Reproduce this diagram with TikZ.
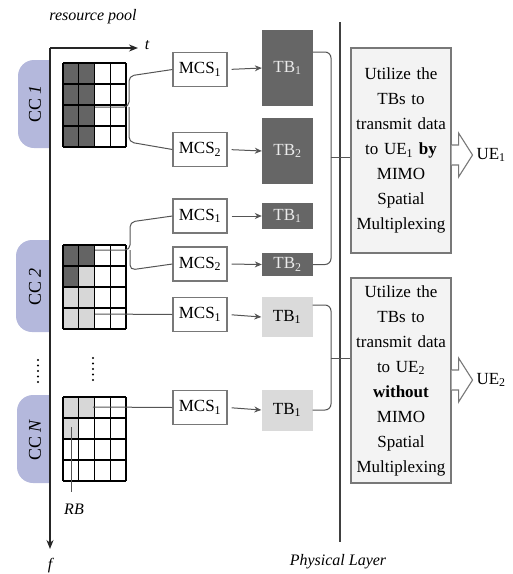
\documentclass[tikz,border=0pt]{standalone}
\usepackage{fontspec}
\setmainfont{Liberation Serif}
\usetikzlibrary{arrows.meta,calc}
\definecolor{darkcell}{RGB}{100,100,100}
\definecolor{lightcell}{RGB}{215,215,215}
\definecolor{tbdark}{RGB}{102,102,102}
\definecolor{tblight}{RGB}{218,218,218}
\definecolor{ccfill}{RGB}{180,184,220}
\definecolor{boxfill}{RGB}{243,243,243}
\definecolor{conncol}{RGB}{85,85,85}
\definecolor{boxline}{RGB}{120,120,120}
\tikzset{
  every node/.style={font=\fontsize{17}{25}\selectfont},
  mcsbox/.style={draw=boxline, line width=1.1pt, fill=white, minimum width=54pt, minimum height=34pt, inner sep=0pt},
  tbdk/.style={fill=tbdark, text=white!92!black, minimum width=51pt, inner sep=0pt},
  tblt/.style={fill=tblight, text=black, minimum width=51pt, inner sep=0pt},
  conn/.style={draw=conncol, line width=1pt},
  connarrow/.style={conn, -{Stealth[length=7pt,width=6pt]}, shorten <=4pt},
  uebox/.style={draw=boxline, line width=1.1pt, fill=boxfill, minimum width=100pt, minimum height=205pt, text width=98pt, align=center, inner sep=0pt},
  blockarrow/.style={draw=boxline, line width=1.1pt, fill=white, line join=miter},
  gridline/.style={line width=1.1pt, black},
  axisline/.style={line width=1.8pt, black!85},
  italiclabel/.style={font=\fontsize{16}{18}\selectfont\itshape},
}
\begin{document}
\begin{tikzpicture}[x=1pt,y=-1pt]
\useasboundingbox (0,0) rectangle (513,574);

% CC blobs
\begin{scope}
  \clip (0,0) rectangle (50,574);
  \fill[ccfill, rounded corners=16] (18,60) rectangle (90,148);
  \fill[ccfill, rounded corners=16] (16,240) rectangle (90,332);
  \fill[ccfill, rounded corners=16] (17,395) rectangle (90,483);
\end{scope}
\node[rotate=90, font=\fontsize{18}{20}\selectfont] (cc1) at (35,104) {CC \textit{1}};
\node[rotate=90, font=\fontsize{18}{20}\selectfont] (cc2) at (35,287) {CC \textit{2}};
\node[rotate=90, font=\fontsize{18}{20}\selectfont] (ccn) at (35,440) {CC \textit{N}};

% Grid 1
\fill[darkcell] (63,63) rectangle (94.5,147);
% Grid 2
\fill[darkcell] (63,245) rectangle (94.5,266);
\fill[darkcell] (63,266) rectangle (78.75,287);
\fill[lightcell] (78.75,266) rectangle (94.5,287);
\fill[lightcell] (63,287) rectangle (94.5,329);
% Grid N
\fill[lightcell] (63,397) rectangle (94.5,418);
\fill[lightcell] (63,418) rectangle (78.75,439);
\foreach \yo in {63,245,397}{
  \foreach \i in {0,...,4}{
    \draw[gridline] (63+\i*15.75,\yo) -- (63+\i*15.75,\yo+84);
    \draw[gridline] (63,\yo+\i*21) -- (126,\yo+\i*21);
  }
}

% dots
\foreach \i in {0,...,4}{
  \fill (38,360+\i*5.5) circle (1.1);
  \fill (93,358+\i*5.5) circle (1.1);
}

% axes
\coordinate (o) at (50,48);
\coordinate (tend) at (138,48);
\coordinate (fend) at (50,549);
\draw[axisline, -{Stealth[length=9pt,width=7pt]}] (o) -- (tend);
\draw[axisline, -{Stealth[length=9pt,width=7pt]}] (o) -- (fend);
\node[italiclabel] (tlab) at (147,45) {t};
\node[italiclabel] (flab) at (50,566) {f};
\node[italiclabel] (pool) at (93,17) {resource pool};

% RB
\coordinate (rbtop) at (71,427);
\node[italiclabel] (rb) at (74,509) {RB};
\draw[conncol, line width=0.9pt] (rbtop) -- (71,492);

% MCS boxes
\node[mcsbox] (mcsA) at (200,69.5) {MCS\textsubscript{1}};
\node[mcsbox] (mcsB) at (200,149.5) {MCS\textsubscript{2}};
\node[mcsbox] (mcsC) at (200,216) {MCS\textsubscript{1}};
\node[mcsbox] (mcsD) at (200,264) {MCS\textsubscript{2}};
\node[mcsbox] (mcsE) at (200,314.5) {MCS\textsubscript{1}};
\node[mcsbox] (mcsF) at (200,407.5) {MCS\textsubscript{1}};

% TB boxes
\node[tbdk, minimum height=76pt] (tbA) at (287.5,68) {TB\textsubscript{1}};
\node[tbdk, minimum height=66pt] (tbB) at (287.5,151) {TB\textsubscript{2}};
\node[tbdk, minimum height=26pt] (tbC) at (287.5,216) {TB\textsubscript{1}};
\node[tbdk, minimum height=23pt] (tbD) at (287.5,264.5) {TB\textsubscript{2}};
\node[tblt, minimum height=40pt] (tbE) at (287,317) {TB\textsubscript{1}};
\node[tblt, minimum height=41pt] (tbF) at (287,410) {TB\textsubscript{1}};

\foreach \m/\t in {mcsA/tbA,mcsB/tbB,mcsC/tbC,mcsD/tbD,mcsE/tbE,mcsF/tbF}{
  \draw[connarrow] (\m.east) -- (\t.west);
}

% grid -> MCS connectors
\coordinate (g1o) at (95,107);
\coordinate (g2o) at (95,250);
\coordinate (g2p) at (95,314);
\coordinate (gNp) at (93,407);
\draw[conn, rounded corners=5] (g1o) -- (129,107) -- (129,76) -- (mcsA.west);
\draw[conn, rounded corners=5] (129,107) -- (129,142) -- (mcsB.west);
\draw[conn, rounded corners=5] (g2o) -- (130,250) -- (130,222) -- (mcsC.west);
\draw[conn, rounded corners=5] (130,250) -- (130,270) -- (mcsD.west);
\draw[conn] (g2p) -- (mcsE.west);
\draw[conn] (gNp) -- (mcsF.west);

% physical layer
\coordinate (phytop) at (340,22);
\coordinate (phybot) at (340,542);
\draw[line width=2pt, black!75] (phytop) -- (phybot);
\node[italiclabel] (phy) at (338,562) {Physical Layer};

% UE boxes
\node[uebox] (ue1box) at (401,150.5) {Utilize the\\TBs to\\transmit data\\to UE\textsubscript{1} \textbf{by}\\MIMO\\Spatial\\Multiplexing};
\node[uebox] (ue2box) at (401,380.5) {Utilize the\\TBs to\\transmit data\\to UE\textsubscript{2}\\\textbf{without}\\MIMO\\Spatial\\Multiplexing};

% TB -> physical layer -> UE box
\coordinate (j1) at (331,157);
\coordinate (j2) at (331,358);
\draw[conn, rounded corners=6] ([yshift=16pt]tbA.east) -- (331,52) -- (j1);
\draw[conn, rounded corners=6] (tbD.east) -- (331,264.5) -- (j1);
\draw[conn] (j1) -- (ue1box.west |- j1);
\draw[conn, rounded corners=6] ([yshift=12pt]tbE.east) -- (331,305) -- (j2);
\draw[conn, rounded corners=6] (tbF.east) -- (331,410) -- (j2);
\draw[conn] (j2) -- (ue2box.west |- j2);

% block arrows
\coordinate (a1) at (ue1box.east |- 0,155);
\coordinate (a2) at (ue2box.east |- 0,380);
\foreach \a in {a1,a2}{
  \draw[blockarrow] (\a) ++(0,-10) -- ++(7,0) -- ++(0,-12) -- ++(14,22) -- ++(-14,22) -- ++(0,-12) -- ++(-7,0);
}
\node[anchor=west] (ue1) at (473,155) {UE\textsubscript{1}};
\node[anchor=west] (ue2) at (473,380) {UE\textsubscript{2}};
\end{tikzpicture}
\end{document}
